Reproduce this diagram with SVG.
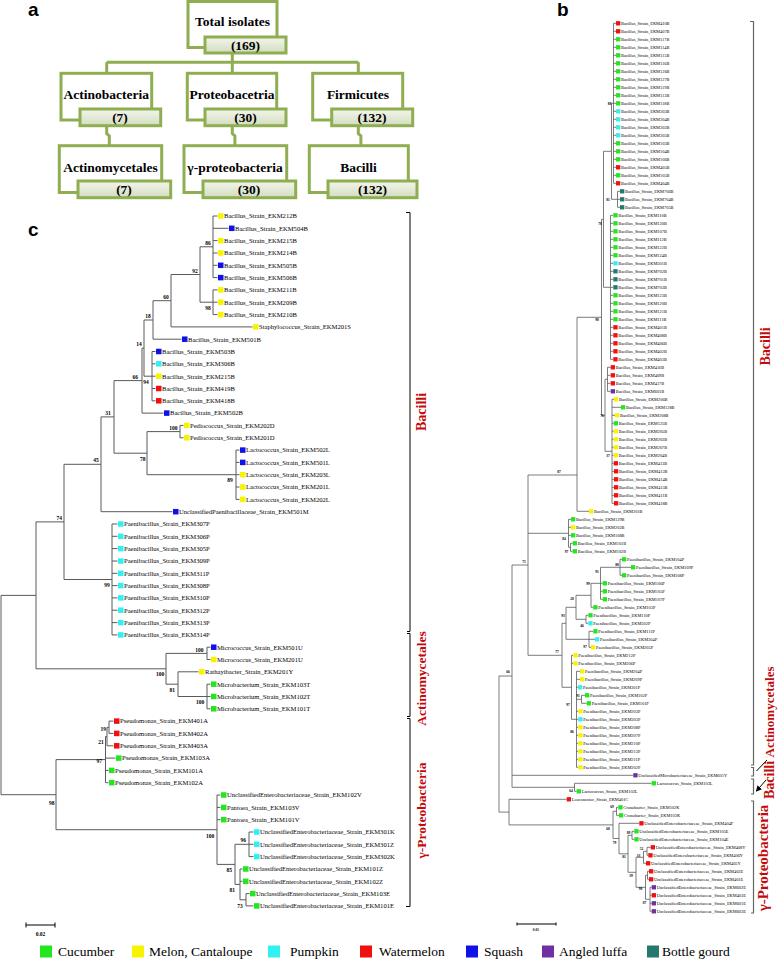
<svg xmlns="http://www.w3.org/2000/svg" xmlns:xlink="http://www.w3.org/1999/xlink" width="778" height="968" viewBox="0 0 778 968">
<defs>
<linearGradient id="ig" x1="0" y1="0" x2="0" y2="1"><stop offset="0" stop-color="#f3f6ec"/><stop offset="1" stop-color="#d3dcbf"/></linearGradient>
<rect id="sc" x="0" y="-2.75" width="5.5" height="5.5"/>
<rect id="sb" x="0" y="-2.15" width="4.3" height="4.3"/>
<marker id="ah" markerWidth="6" markerHeight="6" refX="5" refY="3" orient="auto" markerUnits="userSpaceOnUse"><path d="M0,0 L6,3 L0,6 z" fill="#000"/></marker>
<style>
.ob{fill:#fff;stroke:#8fae52;stroke-width:3}
.ib{fill:url(#ig);stroke:#8fae52;stroke-width:3}
.ca{fill:none;stroke:#8fae52;stroke-width:3}
.ta{font:bold 13.5px "Liberation Serif",serif;text-anchor:middle;fill:#000}
.pl{font:bold 19px "Liberation Sans",Arial,sans-serif;fill:#000}
.tr{fill:none;stroke:#5a5a5a;stroke-width:1}
.trb{fill:none;stroke:#5a5a5a;stroke-width:0.8}
.br{fill:none;stroke:#000;stroke-width:1}
.brb{fill:none;stroke:#666;stroke-width:1.2}
.lc{font:6.6px "Liberation Serif",serif;fill:#000}
.lb{font:4.4px "Liberation Serif",serif;fill:#000}
.bc{font:bold 5.5px "Liberation Serif",serif;text-anchor:middle;fill:#000}
.bb{font:bold 3.6px "Liberation Serif",serif;text-anchor:middle;fill:#000}
.rl{font-family:"Liberation Serif",serif;font-weight:bold;fill:#c40a0a;text-anchor:middle}
.lg{font:13.5px "Liberation Serif",serif;fill:#000}
.g{fill:#22e622}.y{fill:#f8f400}.c{fill:#33f0f0}.r{fill:#f01010}.b{fill:#1010e8}.p{fill:#7030a0}.t{fill:#26786f}
</style>
</defs>
<rect width="778" height="968" fill="#fff"/>

<text class="pl" x="28" y="16">a</text>
<text class="pl" x="557" y="16">b</text>
<text class="pl" x="28" y="236">c</text>

<g id="connectors-a">
<path class="ca" d="M232.3 52.7V62.3 M106.7 62.3H358.3 M106.7 62.3V73.3 M232.3 62.3V73.3 M358.3 62.3V73.3"/>
<path class="ca" d="M106.7 125.7V133.5L109.3 136V145.7 M232.3 125.7V133.5L234.9 136V145.7 M358.3 125.7V133.5L360.9 136V145.7"/>
</g>
<g id="n-total"><rect class="ob" x="188" y="1.5" width="89" height="46"/><rect class="ib" x="205" y="37" width="81" height="16"/><text class="ta" x="232.5" y="26">Total isolates</text><text class="ta" x="245.5" y="49.5">(169)</text></g>
<g id="n-actinobacteria"><rect class="ob" x="61" y="73.3" width="90.7" height="46.7"/><rect class="ib" x="80" y="109" width="80.7" height="16.7"/><text class="ta" x="106.3" y="98.5">Actinobacteria</text><text class="ta" x="120" y="122">(7)</text></g>
<g id="n-proteobacetria"><rect class="ob" x="187.3" y="73.3" width="89.4" height="46.7"/><rect class="ib" x="205" y="109" width="81" height="16.7"/><text class="ta" x="232" y="98.5">Proteobacetria</text><text class="ta" x="245.5" y="122">(30)</text></g>
<g id="n-firmicutes"><rect class="ob" x="312.7" y="73.3" width="90" height="46.7"/><rect class="ib" x="331.7" y="109" width="81" height="16.7"/><text class="ta" x="358" y="98.5">Firmicutes</text><text class="ta" x="372" y="122">(132)</text></g>
<g id="n-actinomycetales"><rect class="ob" x="59.3" y="145.7" width="102.4" height="46.8"/><rect class="ib" x="78" y="181" width="92.7" height="16.7"/><text class="ta" x="110.5" y="171.5">Actinomycetales</text><text class="ta" x="124" y="194">(7)</text></g>
<g id="n-gammaproteobacteria"><rect class="ob" x="184" y="145.7" width="102.7" height="46.8"/><rect class="ib" x="203" y="181" width="92.7" height="16.7"/><text class="ta" x="235" y="171.5">γ-proteobacteria</text><text class="ta" x="249" y="194">(30)</text></g>
<g id="n-bacilli"><rect class="ob" x="309.3" y="145.7" width="99" height="46.8"/><rect class="ib" x="328" y="181" width="89" height="16.7"/><text class="ta" x="358.5" y="171.5">Bacilli</text><text class="ta" x="372.5" y="194">(132)</text></g>

<g id="connectors-c">
<path class="tr" d="M213 216V277.6 M213 216H217.5 M213 228.3H228.5 M213 240.6H217.5 M213 253H217.5 M213 265.3H217.5 M213 277.6H217.5
M213 289.9V314.6 M213 289.9H217.5 M213 302.2H217.5 M213 314.6H217.5
M200 246.8V302.2 M200 246.8H213 M200 302.2H213
M171 274.5V326.9 M171 274.5H200 M171 326.9H252.5
M153 300.7V339.2 M153 300.7H171 M153 339.2H181.5
M152 351.5V400.8 M152 351.5H155.5 M152 363.8H155.5 M152 376.2H155.5 M152 388.5H155.5 M152 400.8H155.5
M144 320V376.2 M144 320H153 M144 376.2H152
M142 348.1V413.1 M142 348.1H144 M142 413.1H163.5
M180 425.4V437.8 M180 425.4H183.5 M180 437.8H183.5
M236 450.1V499.4 M236 450.1H239.5 M236 462.4H239.5 M236 474.7H239.5 M236 487H239.5 M236 499.4H239.5
M147 431.6V474.7 M147 431.6H180 M147 474.7H236
M114 380.6V453.2 M114 380.6H142 M114 453.2H147
M101 416.9V511.7 M101 416.9H114 M101 511.7H172.5
M112 524V634.9 M112 524H117.5 M112 536.3H117.5 M112 548.6H117.5 M112 561H117.5 M112 573.3H117.5 M112 585.6H117.5 M112 597.9H117.5 M112 610.2H117.5 M112 622.6H117.5 M112 634.9H117.5
M64 464.3V579.5 M64 464.3H101 M64 579.5H112
M207 647.2V659.5 M207 647.2H210.5 M207 659.5H210.5
M207 684.2V708.8 M207 684.2H210.5 M207 696.5H210.5 M207 708.8H210.5
M178 671.8V696.5 M178 671.8H198.5 M178 696.5H207
M166 653.4V684.2 M166 653.4H207 M166 684.2H178
M36 521.9V668.8 M36 521.9H64 M36 668.8H166
M109 721.1V733.4 M109 721.1H113.5 M109 733.4H113.5
M107 727.3V745.8 M107 727.3H109 M107 745.8H113.5
M105.5 736.5V782.7 M105.5 736.5H107 M105.5 758.1H115.5 M105.5 770.4H108.5 M105.5 782.7H108.5
M249 832V856.6 M249 832H253.5 M249 844.3H253.5 M249 856.6H253.5
M246 893.6V905.9 M246 893.6H249.5 M246 905.9H253.5
M240 869V899.8 M240 869H242.5 M240 881.3H242.5 M240 899.8H246
M235 844.3V884.4 M235 844.3H249 M235 884.4H240
M217 795V864.4 M217 795H220.5 M217 807.4H220.5 M217 819.7H220.5 M217 864.4H235
M56 759.6V829.7 M56 759.6H105.5 M56 829.7H217
M1 595.4V794.7 M1 595.4H36 M1 794.7H56"/>
<path class="br" d="M406 212.5H410V631.5H407 M407 633.5H410V716.5H407 M407 718.5H410V906.5H406"/>
<path class="br" d="M26 925H55 M26 922.5V927.5 M55 922.5V927.5"/>
</g>

<g id="bootstrap-c">
<text class="bc" x="208" y="244.5">86</text>
<text class="bc" x="195" y="272.8">92</text>
<text class="bc" x="208" y="310">98</text>
<text class="bc" x="166" y="298.5">60</text>
<text class="bc" x="148" y="317.5">18</text>
<text class="bc" x="139" y="345.8">14</text>
<text class="bc" x="135.3" y="378.5">66</text>
<text class="bc" x="146" y="383.5">94</text>
<text class="bc" x="108" y="414.5">31</text>
<text class="bc" x="173.3" y="429.5">100</text>
<text class="bc" x="142.7" y="461">78</text>
<text class="bc" x="230" y="482">89</text>
<text class="bc" x="96" y="462">45</text>
<text class="bc" x="59.3" y="520">74</text>
<text class="bc" x="107" y="587">99</text>
<text class="bc" x="199.3" y="651.5">100</text>
<text class="bc" x="160" y="676">100</text>
<text class="bc" x="172.3" y="692">81</text>
<text class="bc" x="200" y="703.5">100</text>
<text class="bc" x="103.3" y="731">19</text>
<text class="bc" x="101" y="744">21</text>
<text class="bc" x="99.3" y="762.5">97</text>
<text class="bc" x="51.7" y="804.5">98</text>
<text class="bc" x="210" y="837.5">100</text>
<text class="bc" x="243.3" y="842">96</text>
<text class="bc" x="229.3" y="872">85</text>
<text class="bc" x="232.3" y="892">81</text>
<text class="bc" x="240" y="907.5">73</text>
<text class="bc" x="40.5" y="936">0.02</text>
</g>

<g id="leaves-c" class="lc">
<g id="c0" transform="translate(218,216)"><use href="#sc" class="y"/><text x="6" y="2.3">Bacillus_Strain_EKM212B</text></g>
<g id="c1" transform="translate(229,228.3)"><use href="#sc" class="b"/><text x="6" y="2.3">Bacillus_Strain_EKM504B</text></g>
<g id="c2" transform="translate(218,240.6)"><use href="#sc" class="y"/><text x="6" y="2.3">Bacillus_Strain_EKM215B</text></g>
<g id="c3" transform="translate(218,253)"><use href="#sc" class="y"/><text x="6" y="2.3">Bacillus_Strain_EKM214B</text></g>
<g id="c4" transform="translate(218,265.3)"><use href="#sc" class="b"/><text x="6" y="2.3">Bacillus_Strain_EKM505B</text></g>
<g id="c5" transform="translate(218,277.6)"><use href="#sc" class="b"/><text x="6" y="2.3">Bacillus_Strain_EKM506B</text></g>
<g id="c6" transform="translate(218,289.9)"><use href="#sc" class="y"/><text x="6" y="2.3">Bacillus_Strain_EKM211B</text></g>
<g id="c7" transform="translate(218,302.2)"><use href="#sc" class="y"/><text x="6" y="2.3">Bacillus_Strain_EKM209B</text></g>
<g id="c8" transform="translate(218,314.6)"><use href="#sc" class="y"/><text x="6" y="2.3">Bacillus_Strain_EKM210B</text></g>
<g id="c9" transform="translate(253,326.9)"><use href="#sc" class="y"/><text x="6" y="2.3">Staphylococcus_Strain_EKM201S</text></g>
<g id="c10" transform="translate(182,339.2)"><use href="#sc" class="b"/><text x="6" y="2.3">Bacillus_Strain_EKM501B</text></g>
<g id="c11" transform="translate(156,351.5)"><use href="#sc" class="b"/><text x="6" y="2.3">Bacillus_Strain_EKM503B</text></g>
<g id="c12" transform="translate(156,363.8)"><use href="#sc" class="c"/><text x="6" y="2.3">Bacillus_Strain_EKM306B</text></g>
<g id="c13" transform="translate(156,376.2)"><use href="#sc" class="y"/><text x="6" y="2.3">Bacillus_Strain_EKM215B</text></g>
<g id="c14" transform="translate(156,388.5)"><use href="#sc" class="r"/><text x="6" y="2.3">Bacillus_Strain_EKM419B</text></g>
<g id="c15" transform="translate(156,400.8)"><use href="#sc" class="r"/><text x="6" y="2.3">Bacillus_Strain_EKM418B</text></g>
<g id="c16" transform="translate(164,413.1)"><use href="#sc" class="b"/><text x="6" y="2.3">Bacillus_Strain_EKM502B</text></g>
<g id="c17" transform="translate(184,425.4)"><use href="#sc" class="y"/><text x="6" y="2.3">Pediococcus_Strain_EKM202D</text></g>
<g id="c18" transform="translate(184,437.8)"><use href="#sc" class="y"/><text x="6" y="2.3">Pediococcus_Strain_EKM201D</text></g>
<g id="c19" transform="translate(240,450.1)"><use href="#sc" class="b"/><text x="6" y="2.3">Lactococcus_Strain_EKM502L</text></g>
<g id="c20" transform="translate(240,462.4)"><use href="#sc" class="b"/><text x="6" y="2.3">Lactococcus_Strain_EKM501L</text></g>
<g id="c21" transform="translate(240,474.7)"><use href="#sc" class="y"/><text x="6" y="2.3">Lactococcus_Strain_EKM203L</text></g>
<g id="c22" transform="translate(240,487)"><use href="#sc" class="y"/><text x="6" y="2.3">Lactococcus_Strain_EKM201L</text></g>
<g id="c23" transform="translate(240,499.4)"><use href="#sc" class="y"/><text x="6" y="2.3">Lactococcus_Strain_EKM202L</text></g>
<g id="c24" transform="translate(173,511.7)"><use href="#sc" class="b"/><text x="6" y="2.3">UnclassifiedPaenibacillaceae_Strain_EKM501M</text></g>
<g id="c25" transform="translate(118,524)"><use href="#sc" class="c"/><text x="6" y="2.3">Paenibacillus_Strain_EKM307P</text></g>
<g id="c26" transform="translate(118,536.3)"><use href="#sc" class="c"/><text x="6" y="2.3">Paenibacillus_Strain_EKM306P</text></g>
<g id="c27" transform="translate(118,548.6)"><use href="#sc" class="c"/><text x="6" y="2.3">Paenibacillus_Strain_EKM305P</text></g>
<g id="c28" transform="translate(118,561)"><use href="#sc" class="c"/><text x="6" y="2.3">Paenibacillus_Strain_EKM309P</text></g>
<g id="c29" transform="translate(118,573.3)"><use href="#sc" class="c"/><text x="6" y="2.3">Paenibacillus_Strain_EKM311P</text></g>
<g id="c30" transform="translate(118,585.6)"><use href="#sc" class="c"/><text x="6" y="2.3">Paenibacillus_Strain_EKM308P</text></g>
<g id="c31" transform="translate(118,597.9)"><use href="#sc" class="c"/><text x="6" y="2.3">Paenibacillus_Strain_EKM310P</text></g>
<g id="c32" transform="translate(118,610.2)"><use href="#sc" class="c"/><text x="6" y="2.3">Paenibacillus_Strain_EKM312P</text></g>
<g id="c33" transform="translate(118,622.6)"><use href="#sc" class="c"/><text x="6" y="2.3">Paenibacillus_Strain_EKM313P</text></g>
<g id="c34" transform="translate(118,634.9)"><use href="#sc" class="c"/><text x="6" y="2.3">Paenibacillus_Strain_EKM314P</text></g>
<g id="c35" transform="translate(211,647.2)"><use href="#sc" class="b"/><text x="6" y="2.3">Micrococcus_Strain_EKM501U</text></g>
<g id="c36" transform="translate(211,659.5)"><use href="#sc" class="y"/><text x="6" y="2.3">Micrococcus_Strain_EKM201U</text></g>
<g id="c37" transform="translate(199,671.8)"><use href="#sc" class="y"/><text x="6" y="2.3">Rathayibacter_Strain_EKM201Y</text></g>
<g id="c38" transform="translate(211,684.2)"><use href="#sc" class="g"/><text x="6" y="2.3">Microbacterium_Strain_EKM103T</text></g>
<g id="c39" transform="translate(211,696.5)"><use href="#sc" class="g"/><text x="6" y="2.3">Microbacterium_Strain_EKM102T</text></g>
<g id="c40" transform="translate(211,708.8)"><use href="#sc" class="g"/><text x="6" y="2.3">Microbacterium_Strain_EKM101T</text></g>
<g id="c41" transform="translate(114,721.1)"><use href="#sc" class="r"/><text x="6" y="2.3">Pseudomonas_Strain_EKM401A</text></g>
<g id="c42" transform="translate(114,733.4)"><use href="#sc" class="r"/><text x="6" y="2.3">Pseudomonas_Strain_EKM402A</text></g>
<g id="c43" transform="translate(114,745.8)"><use href="#sc" class="r"/><text x="6" y="2.3">Pseudomonas_Strain_EKM403A</text></g>
<g id="c44" transform="translate(116,758.1)"><use href="#sc" class="g"/><text x="6" y="2.3">Pseudomonas_Strain_EKM103A</text></g>
<g id="c45" transform="translate(109,770.4)"><use href="#sc" class="g"/><text x="6" y="2.3">Pseudomonas_Strain_EKM101A</text></g>
<g id="c46" transform="translate(109,782.7)"><use href="#sc" class="g"/><text x="6" y="2.3">Pseudomonas_Strain_EKM102A</text></g>
<g id="c47" transform="translate(221,795)"><use href="#sc" class="g"/><text x="6" y="2.3">UnclassifiedEnterobacteriaceae_Strain_EKM102V</text></g>
<g id="c48" transform="translate(221,807.4)"><use href="#sc" class="g"/><text x="6" y="2.3">Pantoea_Strain_EKM103V</text></g>
<g id="c49" transform="translate(221,819.7)"><use href="#sc" class="g"/><text x="6" y="2.3">Pantoea_Strain_EKM101V</text></g>
<g id="c50" transform="translate(254,832)"><use href="#sc" class="c"/><text x="6" y="2.3">UnclassifiedEnterobacteriaceae_Strain_EKM301K</text></g>
<g id="c51" transform="translate(254,844.3)"><use href="#sc" class="c"/><text x="6" y="2.3">UnclassifiedEnterobacteriaceae_Strain_EKM301Z</text></g>
<g id="c52" transform="translate(254,856.6)"><use href="#sc" class="c"/><text x="6" y="2.3">UnclassifiedEnterobacteriaceae_Strain_EKM302K</text></g>
<g id="c53" transform="translate(243,869)"><use href="#sc" class="g"/><text x="6" y="2.3">UnclassifiedEnterobacteriaceae_Strain_EKM101Z</text></g>
<g id="c54" transform="translate(243,881.3)"><use href="#sc" class="g"/><text x="6" y="2.3">UnclassifiedEnterobacteriaceae_Strain_EKM102Z</text></g>
<g id="c55" transform="translate(250,893.6)"><use href="#sc" class="g"/><text x="6" y="2.3">UnclassifiedEnterobacteriaceae_Strain_EKM103E</text></g>
<g id="c56" transform="translate(254,905.9)"><use href="#sc" class="g"/><text x="6" y="2.3">UnclassifiedEnterobacteriaceae_Strain_EKM101E</text></g>
</g>

<g id="labels-c">
<text class="rl" font-size="14" transform="translate(425.8,412) rotate(-90)">Bacilli</text>
<text class="rl" font-size="13.5" transform="translate(425.5,678.4) rotate(-90)">Actinomycetales</text>
<text class="rl" font-size="13.5" transform="translate(425.5,810.5) rotate(-90)">γ-Proteobacteria</text>
</g>

<g id="connectors-b">
<path class="trb" d="M613.5 23.3V183.3 M613.5 23.3H616 M613.5 31.3H616 M613.5 39.3H616 M613.5 47.3H616 M613.5 55.3H616 M613.5 63.3H616 M613.5 71.3H616 M613.5 79.3H616 M613.5 87.3H616 M613.5 95.3H616 M613.5 103.3H616 M613.5 111.3H616 M613.5 119.3H616 M613.5 127.3H616 M613.5 135.3H616 M613.5 143.3H616 M613.5 151.3H616 M613.5 159.3H616 M613.5 167.3H616 M613.5 175.3H616 M613.5 183.3H616
M617.5 191.3V207.3 M617.5 191.3H620 M617.5 199.3H620 M617.5 207.3H620
M611.5 103.3V199.3 M611.5 103.3H613.5 M611.5 199.3H617.5
M610.5 215.3V359.3 M610.5 215.3H613.3 M610.5 223.3H613.3 M610.5 231.3H613.3 M610.5 239.3H613.3 M610.5 247.3H613.3 M610.5 255.3H613.3 M610.5 263.3H613.3 M610.5 271.3H613.3 M610.5 279.3H613.3 M610.5 287.3H613.3 M610.5 295.3H613.3 M610.5 303.3H613.3 M610.5 311.3H613.3 M610.5 319.3H613.3 M610.5 327.3H613.3 M610.5 335.3H613.3 M610.5 343.3H613.3 M610.5 351.3H613.3 M610.5 359.3H613.3
M603.5 151.3V287.3 M603.5 151.3H611.5 M603.5 287.3H610.5
M607.5 367.3V391.3 M607.5 367.3H610.7 M607.5 375.3H610.7 M607.5 383.3H610.7 M607.5 391.3H610.7
M612 399.3V503.3 M612 399.3H614 M612 407.3H621 M612 415.3H615 M612 423.3H613.7 M612 431.3H613.7 M612 439.3H613.7 M612 447.3H613.7 M612 455.3H613.7 M612 463.3H613.7 M612 471.3H614 M612 479.3H614 M612 487.3H614 M612 495.3H614 M612 503.3H614
M605 379.3V451.3 M605 379.3H607.5 M605 451.3H612
M601.5 219.3V415.3 M601.5 219.3H603.5 M601.5 415.3H605
M577 317.3V511.3 M577 317.3H601.5 M577 511.3H589
M570.5 543.3V551.3 M570.5 543.3H572.7 M570.5 551.3H572.7
M568.5 519.3V547.3 M568.5 519.3H571 M568.5 527.3H571 M568.5 535.3H571 M568.5 547.3H570.5
M620 559.3V575.3 M620 559.3H622 M620 567.3H631 M620 575.3H622
M600.5 567.3V599.3 M600.5 567.3H620 M600.5 583.3H602.7 M600.5 591.3H602.7 M600.5 599.3H602.7
M591 583.3V607.3 M591 583.3H600.5 M591 607.3H593.3
M586 615.3V623.3 M586 615.3H588.3 M586 623.3H588.3
M576 595.3V619.3 M576 595.3H591 M576 619.3H586
M589 631.3V647.3 M589 631.3H593.3 M589 639.3H595 M589 647.3H591
M566 607.3V639.3 M566 607.3H576 M566 639.3H589
M581.5 695.3V703.3 M581.5 695.3H585 M581.5 703.3H586.7
M576.5 671.3V767.3 M576.5 671.3H580 M576.5 679.3H580 M576.5 687.3H578 M576.5 699.3H581.5 M576.5 711.3H578.3 M576.5 719.3H578.3 M576.5 727.3H578.3 M576.5 735.3H578.3 M576.5 743.3H578.3 M576.5 751.3H578.3 M576.5 759.3H578.3 M576.5 767.3H578.3
M571.5 655.3V719.3 M571.5 655.3H573.3 M571.5 663.3H573.3 M571.5 719.3H576.5
M562 623.3V687.3 M562 623.3H566 M562 687.3H571.5
M528 475V655.3 M528 475H577 M528 533.3H568.5 M528 655.3H562
M574.5 783.3V791.3 M574.5 783.3H651.7 M574.5 791.3H576.7
M512 565V787.3 M512 565H528 M512 775.3H633.3 M512 787.3H574.5
M616.5 807.3V815.3 M616.5 807.3H618.3 M616.5 815.3H619
M632 831.3V839.3 M632 831.3H634.3 M632 839.3H634.3
M647 847.3V855.3 M647 847.3H650.7 M647 855.3H648.3
M643.5 851.3V863.3 M643.5 851.3H647 M643.5 863.3H646
M647.5 871.3V879.3 M647.5 871.3H649 M647.5 879.3H649
M650 887.3V911.3 M650 887.3H651.7 M650 895.3H651.7 M650 903.3H651.7 M650 911.3H651.7
M645.5 875.3V899.3 M645.5 875.3H647.5 M645.5 899.3H650
M636 857.3V887.3 M636 857.3H643.5 M636 887.3H645.5
M628 835.3V872.3 M628 835.3H632 M628 872.3H636
M619 823.3V853.8 M619 823.3H639.3 M619 853.8H628
M613 811.3V838.5 M613 811.3H616.5 M613 838.5H619
M509 799.3V824.9 M509 799.3H566.7 M509 824.9H613
M499 676V812.1 M499 676H512 M499 812.1H509"/>
<path class="brb" d="M750 21.5H753.5V765H751 M751 767.5H753.5V776H751 M751 779H753.5V794H751 M751 801H753.5V913H751"/>
<path class="br" d="M767 760L756.5 771 M766 780L756.5 791" marker-end="url(#ah)"/>
<path class="br" d="M517 924H556 M517 922.5V925.5 M556 922.5V925.5"/>
</g>

<g id="bootstrap-b">
<text class="bb" x="609.5" y="105">88</text>
<text class="bb" x="608" y="201">81</text>
<text class="bb" x="600" y="225">78</text>
<text class="bb" x="597" y="321">98</text>
<text class="bb" x="602" y="417">76</text>
<text class="bb" x="608" y="457">37</text>
<text class="bb" x="559" y="473">87</text>
<text class="bb" x="524" y="563">75</text>
<text class="bb" x="564" y="540">84</text>
<text class="bb" x="566.5" y="553">97</text>
<text class="bb" x="617" y="566">88</text>
<text class="bb" x="597" y="573">91</text>
<text class="bb" x="588" y="585">99</text>
<text class="bb" x="572" y="600">28</text>
<text class="bb" x="563" y="617">93</text>
<text class="bb" x="582" y="627">46</text>
<text class="bb" x="585" y="648">97</text>
<text class="bb" x="557" y="653">77</text>
<text class="bb" x="508" y="673">66</text>
<text class="bb" x="578" y="697">91</text>
<text class="bb" x="568" y="706">97</text>
<text class="bb" x="572" y="733">86</text>
<text class="bb" x="571" y="792">64</text>
<text class="bb" x="612" y="808">69</text>
<text class="bb" x="608" y="830">68</text>
<text class="bb" x="628.5" y="834">89</text>
<text class="bb" x="614.5" y="844">79</text>
<text class="bb" x="641.5" y="850">52</text>
<text class="bb" x="638.5" y="856.5">33</text>
<text class="bb" x="624" y="858">81</text>
<text class="bb" x="631" y="877">39</text>
<text class="bb" x="640.5" y="890">98</text>
<text class="bb" x="644.5" y="904">87</text>
<text class="bb" x="536" y="930.5">0.05</text>
</g>

<g id="leaves-b" class="lb">
<g id="b0" transform="translate(616,23.3)"><use href="#sb" class="r"/><text x="5" y="1.5">Bacillus_Strain_EKM410B</text></g>
<g id="b1" transform="translate(616,31.3)"><use href="#sb" class="r"/><text x="5" y="1.5">Bacillus_Strain_EKM407B</text></g>
<g id="b2" transform="translate(616,39.3)"><use href="#sb" class="g"/><text x="5" y="1.5">Bacillus_Strain_EKM117B</text></g>
<g id="b3" transform="translate(616,47.3)"><use href="#sb" class="g"/><text x="5" y="1.5">Bacillus_Strain_EKM114B</text></g>
<g id="b4" transform="translate(616,55.3)"><use href="#sb" class="g"/><text x="5" y="1.5">Bacillus_Strain_EKM115B</text></g>
<g id="b5" transform="translate(616,63.3)"><use href="#sb" class="g"/><text x="5" y="1.5">Bacillus_Strain_EKM116B</text></g>
<g id="b6" transform="translate(616,71.3)"><use href="#sb" class="g"/><text x="5" y="1.5">Bacillus_Strain_EKM126B</text></g>
<g id="b7" transform="translate(616,79.3)"><use href="#sb" class="g"/><text x="5" y="1.5">Bacillus_Strain_EKM127B</text></g>
<g id="b8" transform="translate(616,87.3)"><use href="#sb" class="g"/><text x="5" y="1.5">Bacillus_Strain_EKM119B</text></g>
<g id="b9" transform="translate(616,95.3)"><use href="#sb" class="g"/><text x="5" y="1.5">Bacillus_Strain_EKM113B</text></g>
<g id="b10" transform="translate(616,103.3)"><use href="#sb" class="g"/><text x="5" y="1.5">Bacillus_Strain_EKM118B</text></g>
<g id="b11" transform="translate(616,111.3)"><use href="#sb" class="c"/><text x="5" y="1.5">Bacillus_Strain_EKM303B</text></g>
<g id="b12" transform="translate(616,119.3)"><use href="#sb" class="c"/><text x="5" y="1.5">Bacillus_Strain_EKM304B</text></g>
<g id="b13" transform="translate(616,127.3)"><use href="#sb" class="c"/><text x="5" y="1.5">Bacillus_Strain_EKM302B</text></g>
<g id="b14" transform="translate(616,135.3)"><use href="#sb" class="c"/><text x="5" y="1.5">Bacillus_Strain_EKM305B</text></g>
<g id="b15" transform="translate(616,143.3)"><use href="#sb" class="g"/><text x="5" y="1.5">Bacillus_Strain_EKM103B</text></g>
<g id="b16" transform="translate(616,151.3)"><use href="#sb" class="g"/><text x="5" y="1.5">Bacillus_Strain_EKM104B</text></g>
<g id="b17" transform="translate(616,159.3)"><use href="#sb" class="g"/><text x="5" y="1.5">Bacillus_Strain_EKM106B</text></g>
<g id="b18" transform="translate(616,167.3)"><use href="#sb" class="r"/><text x="5" y="1.5">Bacillus_Strain_EKM405B</text></g>
<g id="b19" transform="translate(616,175.3)"><use href="#sb" class="g"/><text x="5" y="1.5">Bacillus_Strain_EKM105B</text></g>
<g id="b20" transform="translate(616,183.3)"><use href="#sb" class="r"/><text x="5" y="1.5">Bacillus_Strain_EKM404B</text></g>
<g id="b21" transform="translate(620,191.3)"><use href="#sb" class="t"/><text x="5" y="1.5">Bacillus_Strain_EKM706B</text></g>
<g id="b22" transform="translate(620,199.3)"><use href="#sb" class="t"/><text x="5" y="1.5">Bacillus_Strain_EKM704B</text></g>
<g id="b23" transform="translate(620,207.3)"><use href="#sb" class="t"/><text x="5" y="1.5">Bacillus_Strain_EKM705B</text></g>
<g id="b24" transform="translate(613.3,215.3)"><use href="#sb" class="g"/><text x="5" y="1.5">Bacillus_Strain_EKM110B</text></g>
<g id="b25" transform="translate(613.3,223.3)"><use href="#sb" class="g"/><text x="5" y="1.5">Bacillus_Strain_EKM130B</text></g>
<g id="b26" transform="translate(613.3,231.3)"><use href="#sb" class="g"/><text x="5" y="1.5">Bacillus_Strain_EKM107B</text></g>
<g id="b27" transform="translate(613.3,239.3)"><use href="#sb" class="g"/><text x="5" y="1.5">Bacillus_Strain_EKM112B</text></g>
<g id="b28" transform="translate(613.3,247.3)"><use href="#sb" class="g"/><text x="5" y="1.5">Bacillus_Strain_EKM122B</text></g>
<g id="b29" transform="translate(613.3,255.3)"><use href="#sb" class="g"/><text x="5" y="1.5">Bacillus_Strain_EKM124B</text></g>
<g id="b30" transform="translate(613.3,263.3)"><use href="#sb" class="c"/><text x="5" y="1.5">Bacillus_Strain_EKM301B</text></g>
<g id="b31" transform="translate(613.3,271.3)"><use href="#sb" class="t"/><text x="5" y="1.5">Bacillus_Strain_EKM702B</text></g>
<g id="b32" transform="translate(613.3,279.3)"><use href="#sb" class="t"/><text x="5" y="1.5">Bacillus_Strain_EKM701B</text></g>
<g id="b33" transform="translate(613.3,287.3)"><use href="#sb" class="t"/><text x="5" y="1.5">Bacillus_Strain_EKM703B</text></g>
<g id="b34" transform="translate(613.3,295.3)"><use href="#sb" class="g"/><text x="5" y="1.5">Bacillus_Strain_EKM123B</text></g>
<g id="b35" transform="translate(613.3,303.3)"><use href="#sb" class="g"/><text x="5" y="1.5">Bacillus_Strain_EKM120B</text></g>
<g id="b36" transform="translate(613.3,311.3)"><use href="#sb" class="g"/><text x="5" y="1.5">Bacillus_Strain_EKM121B</text></g>
<g id="b37" transform="translate(613.3,319.3)"><use href="#sb" class="g"/><text x="5" y="1.5">Bacillus_Strain_EKM111B</text></g>
<g id="b38" transform="translate(613.3,327.3)"><use href="#sb" class="r"/><text x="5" y="1.5">Bacillus_Strain_EKM401B</text></g>
<g id="b39" transform="translate(613.3,335.3)"><use href="#sb" class="r"/><text x="5" y="1.5">Bacillus_Strain_EKM408B</text></g>
<g id="b40" transform="translate(613.3,343.3)"><use href="#sb" class="r"/><text x="5" y="1.5">Bacillus_Strain_EKM406B</text></g>
<g id="b41" transform="translate(613.3,351.3)"><use href="#sb" class="r"/><text x="5" y="1.5">Bacillus_Strain_EKM402B</text></g>
<g id="b42" transform="translate(613.3,359.3)"><use href="#sb" class="r"/><text x="5" y="1.5">Bacillus_Strain_EKM403B</text></g>
<g id="b43" transform="translate(610.7,367.3)"><use href="#sb" class="r"/><text x="5" y="1.5">Bacillus_Strain_EKM416B</text></g>
<g id="b44" transform="translate(610.7,375.3)"><use href="#sb" class="r"/><text x="5" y="1.5">Bacillus_Strain_EKM409B</text></g>
<g id="b45" transform="translate(610.7,383.3)"><use href="#sb" class="r"/><text x="5" y="1.5">Bacillus_Strain_EKM417B</text></g>
<g id="b46" transform="translate(610.7,391.3)"><use href="#sb" class="p"/><text x="5" y="1.5">Bacillus_Strain_EKM601B</text></g>
<g id="b47" transform="translate(614,399.3)"><use href="#sb" class="y"/><text x="5" y="1.5">Bacillus_Strain_EKM206B</text></g>
<g id="b48" transform="translate(621,407.3)"><use href="#sb" class="g"/><text x="5" y="1.5">Bacillus_Strain_EKM128B</text></g>
<g id="b49" transform="translate(615,415.3)"><use href="#sb" class="y"/><text x="5" y="1.5">Bacillus_Strain_EKM208B</text></g>
<g id="b50" transform="translate(613.7,423.3)"><use href="#sb" class="g"/><text x="5" y="1.5">Bacillus_Strain_EKM125B</text></g>
<g id="b51" transform="translate(613.7,431.3)"><use href="#sb" class="y"/><text x="5" y="1.5">Bacillus_Strain_EKM205B</text></g>
<g id="b52" transform="translate(613.7,439.3)"><use href="#sb" class="y"/><text x="5" y="1.5">Bacillus_Strain_EKM203B</text></g>
<g id="b53" transform="translate(613.7,447.3)"><use href="#sb" class="y"/><text x="5" y="1.5">Bacillus_Strain_EKM207B</text></g>
<g id="b54" transform="translate(613.7,455.3)"><use href="#sb" class="y"/><text x="5" y="1.5">Bacillus_Strain_EKM204B</text></g>
<g id="b55" transform="translate(613.7,463.3)"><use href="#sb" class="r"/><text x="5" y="1.5">Bacillus_Strain_EKM413B</text></g>
<g id="b56" transform="translate(614,471.3)"><use href="#sb" class="r"/><text x="5" y="1.5">Bacillus_Strain_EKM412B</text></g>
<g id="b57" transform="translate(614,479.3)"><use href="#sb" class="r"/><text x="5" y="1.5">Bacillus_Strain_EKM414B</text></g>
<g id="b58" transform="translate(614,487.3)"><use href="#sb" class="r"/><text x="5" y="1.5">Bacillus_Strain_EKM415B</text></g>
<g id="b59" transform="translate(614,495.3)"><use href="#sb" class="r"/><text x="5" y="1.5">Bacillus_Strain_EKM411B</text></g>
<g id="b60" transform="translate(614,503.3)"><use href="#sb" class="r"/><text x="5" y="1.5">Bacillus_Strain_EKM418B</text></g>
<g id="b61" transform="translate(589,511.3)"><use href="#sb" class="y"/><text x="5" y="1.5">Bacillus_Strain_EKM201B</text></g>
<g id="b62" transform="translate(571,519.3)"><use href="#sb" class="g"/><text x="5" y="1.5">Bacillus_Strain_EKM129B</text></g>
<g id="b63" transform="translate(571,527.3)"><use href="#sb" class="y"/><text x="5" y="1.5">Bacillus_Strain_EKM202B</text></g>
<g id="b64" transform="translate(571,535.3)"><use href="#sb" class="g"/><text x="5" y="1.5">Bacillus_Strain_EKM108B</text></g>
<g id="b65" transform="translate(572.7,543.3)"><use href="#sb" class="g"/><text x="5" y="1.5">Bacillus_Strain_EKM101B</text></g>
<g id="b66" transform="translate(572.7,551.3)"><use href="#sb" class="g"/><text x="5" y="1.5">Bacillus_Strain_EKM102B</text></g>
<g id="b67" transform="translate(622,559.3)"><use href="#sb" class="g"/><text x="5" y="1.5">Paenibacillus_Strain_EKM104P</text></g>
<g id="b68" transform="translate(631,567.3)"><use href="#sb" class="g"/><text x="5" y="1.5">Paenibacillus_Strain_EKM109P</text></g>
<g id="b69" transform="translate(622,575.3)"><use href="#sb" class="g"/><text x="5" y="1.5">Paenibacillus_Strain_EKM108P</text></g>
<g id="b70" transform="translate(602.7,583.3)"><use href="#sb" class="g"/><text x="5" y="1.5">Paenibacillus_Strain_EKM106P</text></g>
<g id="b71" transform="translate(602.7,591.3)"><use href="#sb" class="g"/><text x="5" y="1.5">Paenibacillus_Strain_EKM105P</text></g>
<g id="b72" transform="translate(602.7,599.3)"><use href="#sb" class="g"/><text x="5" y="1.5">Paenibacillus_Strain_EKM107P</text></g>
<g id="b73" transform="translate(593.3,607.3)"><use href="#sb" class="g"/><text x="5" y="1.5">Paenibacillus_Strain_EKM103P</text></g>
<g id="b74" transform="translate(588.3,615.3)"><use href="#sb" class="g"/><text x="5" y="1.5">Paenibacillus_Strain_EKM110P</text></g>
<g id="b75" transform="translate(588.3,623.3)"><use href="#sb" class="c"/><text x="5" y="1.5">Paenibacillus_Strain_EKM302P</text></g>
<g id="b76" transform="translate(593.3,631.3)"><use href="#sb" class="g"/><text x="5" y="1.5">Paenibacillus_Strain_EKM111P</text></g>
<g id="b77" transform="translate(595,639.3)"><use href="#sb" class="c"/><text x="5" y="1.5">Paenibacillus_Strain_EKM304P</text></g>
<g id="b78" transform="translate(591,647.3)"><use href="#sb" class="y"/><text x="5" y="1.5">Paenibacillus_Strain_EKM205P</text></g>
<g id="b79" transform="translate(573.3,655.3)"><use href="#sb" class="y"/><text x="5" y="1.5">Paenibacillus_Strain_EKM212P</text></g>
<g id="b80" transform="translate(573.3,663.3)"><use href="#sb" class="y"/><text x="5" y="1.5">Paenibacillus_Strain_EKM206P</text></g>
<g id="b81" transform="translate(580,671.3)"><use href="#sb" class="y"/><text x="5" y="1.5">Paenibacillus_Strain_EKM204P</text></g>
<g id="b82" transform="translate(580,679.3)"><use href="#sb" class="y"/><text x="5" y="1.5">Paenibacillus_Strain_EKM209P</text></g>
<g id="b83" transform="translate(578,687.3)"><use href="#sb" class="c"/><text x="5" y="1.5">Paenibacillus_Strain_EKM301P</text></g>
<g id="b84" transform="translate(585,695.3)"><use href="#sb" class="g"/><text x="5" y="1.5">Paenibacillus_Strain_EKM102P</text></g>
<g id="b85" transform="translate(586.7,703.3)"><use href="#sb" class="g"/><text x="5" y="1.5">Paenibacillus_Strain_EKM101P</text></g>
<g id="b86" transform="translate(578.3,711.3)"><use href="#sb" class="y"/><text x="5" y="1.5">Paenibacillus_Strain_EKM203P</text></g>
<g id="b87" transform="translate(578.3,719.3)"><use href="#sb" class="c"/><text x="5" y="1.5">Paenibacillus_Strain_EKM303P</text></g>
<g id="b88" transform="translate(578.3,727.3)"><use href="#sb" class="y"/><text x="5" y="1.5">Paenibacillus_Strain_EKM208P</text></g>
<g id="b89" transform="translate(578.3,735.3)"><use href="#sb" class="y"/><text x="5" y="1.5">Paenibacillus_Strain_EKM207P</text></g>
<g id="b90" transform="translate(578.3,743.3)"><use href="#sb" class="y"/><text x="5" y="1.5">Paenibacillus_Strain_EKM210P</text></g>
<g id="b91" transform="translate(578.3,751.3)"><use href="#sb" class="y"/><text x="5" y="1.5">Paenibacillus_Strain_EKM213P</text></g>
<g id="b92" transform="translate(578.3,759.3)"><use href="#sb" class="y"/><text x="5" y="1.5">Paenibacillus_Strain_EKM211P</text></g>
<g id="b93" transform="translate(578.3,767.3)"><use href="#sb" class="y"/><text x="5" y="1.5">Paenibacillus_Strain_EKM202P</text></g>
<g id="b94" transform="translate(633.3,775.3)"><use href="#sb" class="p"/><text x="5" y="1.5">UnclassifiedMicrobacteriaceae_Strain_EKM601Y</text></g>
<g id="b95" transform="translate(651.7,783.3)"><use href="#sb" class="g"/><text x="5" y="1.5">Lactococcus_Strain_EKM103L</text></g>
<g id="b96" transform="translate(576.7,791.3)"><use href="#sb" class="g"/><text x="5" y="1.5">Lactococcus_Strain_EKM102L</text></g>
<g id="b97" transform="translate(566.7,799.3)"><use href="#sb" class="r"/><text x="5" y="1.5">Leuconostoc_Strain_EKM401C</text></g>
<g id="b98" transform="translate(618.3,807.3)"><use href="#sb" class="g"/><text x="5" y="1.5">Cronobacter_Strain_EKM102K</text></g>
<g id="b99" transform="translate(619,815.3)"><use href="#sb" class="g"/><text x="5" y="1.5">Cronobacter_Strain_EKM103K</text></g>
<g id="b100" transform="translate(639.3,823.3)"><use href="#sb" class="r"/><text x="5" y="1.5">UnclassifiedEnterobacteriaceae_Strain_EKM404F</text></g>
<g id="b101" transform="translate(634.3,831.3)"><use href="#sb" class="g"/><text x="5" y="1.5">UnclassifiedEnterobacteriaceae_Strain_EKM105E</text></g>
<g id="b102" transform="translate(634.3,839.3)"><use href="#sb" class="g"/><text x="5" y="1.5">UnclassifiedEnterobacteriaceae_Strain_EKM104E</text></g>
<g id="b103" transform="translate(650.7,847.3)"><use href="#sb" class="r"/><text x="5" y="1.5">UnclassifiedEnterobacteriaceae_Strain_EKM408Y</text></g>
<g id="b104" transform="translate(648.3,855.3)"><use href="#sb" class="r"/><text x="5" y="1.5">UnclassifiedEnterobacteriaceae_Strain_EKM406Y</text></g>
<g id="b105" transform="translate(646,863.3)"><use href="#sb" class="r"/><text x="5" y="1.5">UnclassifiedEnterobacteriaceae_Strain_EKM405Y</text></g>
<g id="b106" transform="translate(649,871.3)"><use href="#sb" class="r"/><text x="5" y="1.5">UnclassifiedEnterobacteriaceae_Strain_EKM402E</text></g>
<g id="b107" transform="translate(649,879.3)"><use href="#sb" class="r"/><text x="5" y="1.5">UnclassifiedEnterobacteriaceae_Strain_EKM401E</text></g>
<g id="b108" transform="translate(651.7,887.3)"><use href="#sb" class="p"/><text x="5" y="1.5">UnclassifiedEnterobacteriaceae_Strain_EKM602E</text></g>
<g id="b109" transform="translate(651.7,895.3)"><use href="#sb" class="r"/><text x="5" y="1.5">UnclassifiedEnterobacteriaceae_Strain_EKM403E</text></g>
<g id="b110" transform="translate(651.7,903.3)"><use href="#sb" class="p"/><text x="5" y="1.5">UnclassifiedEnterobacteriaceae_Strain_EKM601E</text></g>
<g id="b111" transform="translate(651.7,911.3)"><use href="#sb" class="p"/><text x="5" y="1.5">UnclassifiedEnterobacteriaceae_Strain_EKM603E</text></g>
</g>

<g id="labels-b">
<text class="rl" font-size="14" transform="translate(769.5,346.5) rotate(-90)">Bacilli</text>
<text class="rl" font-size="13" transform="translate(773.5,712) rotate(-90)">Actinomycetales</text>
<text class="rl" font-size="14" transform="translate(774,780) rotate(-90)">Bacilli</text>
<text class="rl" font-size="15" transform="translate(767.5,858) rotate(-90)">γ-Proteobacteria</text>
</g>

<g id="legend" class="lg">
<g id="lg-cucumber"><rect x="40" y="945.5" width="12" height="12" class="g"/><text x="58" y="956">Cucumber</text></g>
<g id="lg-melon"><rect x="132" y="945.5" width="12" height="12" class="y"/><text x="149" y="956">Melon, Cantaloupe</text></g>
<g id="lg-pumpkin"><rect x="268" y="945.5" width="12" height="12" class="c"/><text x="290" y="956">Pumpkin</text></g>
<g id="lg-watermelon"><rect x="360" y="945.5" width="12" height="12" class="r"/><text x="379" y="956">Watermelon</text></g>
<g id="lg-squash"><rect x="466" y="945.5" width="12" height="12" class="b"/><text x="484" y="956">Squash</text></g>
<g id="lg-luffa"><rect x="542" y="945.5" width="12" height="12" class="p"/><text x="559" y="956">Angled luffa</text></g>
<g id="lg-gourd"><rect x="647" y="945.5" width="12" height="12" class="t"/><text x="662" y="956">Bottle gourd</text></g>
</g>
</svg>
